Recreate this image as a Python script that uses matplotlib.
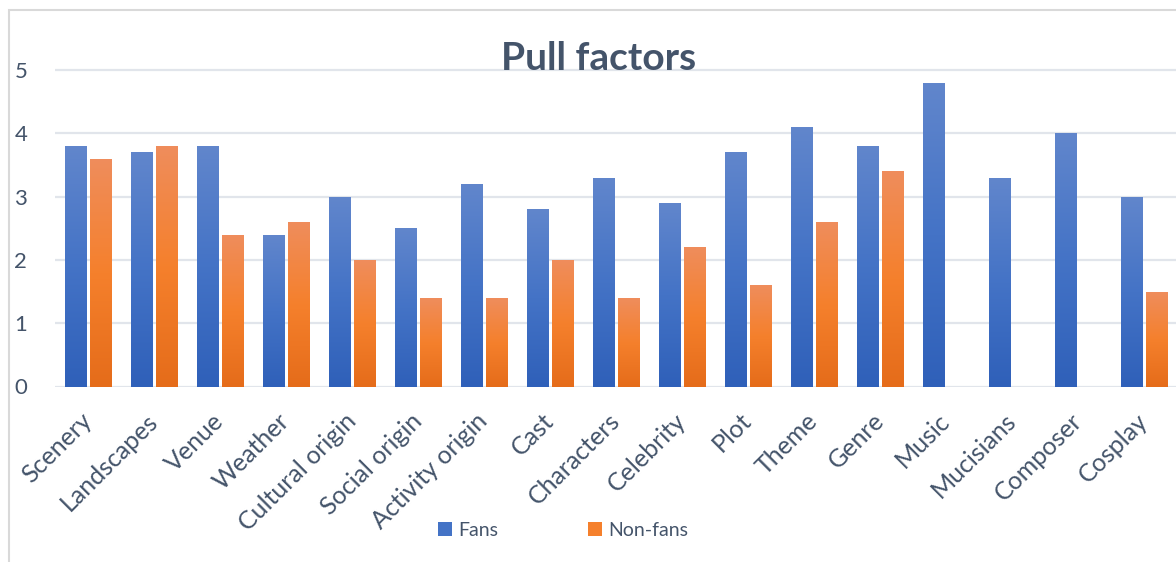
import matplotlib.pyplot as plt
import numpy as np
from matplotlib.colors import LinearSegmentedColormap
from matplotlib.patches import Patch, Rectangle

plt.rcParams['font.family'] = ['Lato', 'DejaVu Sans']

categories = ['Scenery', 'Landscapes', 'Venue', 'Weather', 'Cultural origin',
              'Social origin', 'Activity origin', 'Cast', 'Characters', 'Celebrity',
              'Plot', 'Theme', 'Genre', 'Music', 'Mucisians', 'Composer', 'Cosplay']
fans = [3.8, 3.7, 3.8, 2.4, 3.0, 2.5, 3.2, 2.8, 3.3, 2.9, 3.7, 4.1, 3.8, 4.8, 3.3, 4.0, 3.0]
non_fans = [3.6, 3.8, 2.4, 2.6, 2.0, 1.4, 1.4, 2.0, 1.4, 2.2, 1.6, 2.6, 3.4, 0, 0, 0, 1.5]
y_ticks = [0, 1, 2, 3, 4, 5]

text_col = '#44546A'
grid_col = '#E1E5EB'

# gradient colour stops (bottom -> top)
blue_map = LinearSegmentedColormap.from_list('b', ['#2F60B9', '#4473C6', '#6186CC'])
orange_map = LinearSegmentedColormap.from_list('o', ['#E56C1A', '#F5802C', '#EF8D5C'])

W, H = 1176, 562
fig = plt.figure(figsize=(W / 100, H / 100), dpi=100)

px_unit = (386.5 - 70) / 5
ytop = 5.05
ax = fig.add_axes([55 / W, 1 - 386.5 / H, 1122 / W, ytop * px_unit / H])

x = np.arange(len(categories))
bw = 0.32
off = 0.19


def gradient_bars(xs, vals, cmap, label):
    bars = ax.bar(xs, vals, bw, color=cmap(0.5), label=label, zorder=2)
    grad = np.linspace(0, 1, 256).reshape(-1, 1)
    for b in bars:
        h = b.get_height()
        if h <= 0:
            continue
        x0 = b.get_x()
        im = ax.imshow(grad, cmap=cmap, origin='lower', aspect='auto',
                       extent=[x0, x0 + b.get_width(), 0, h], zorder=3)
        im.set_clip_path(b)
    return bars


gradient_bars(x - off, fans, blue_map, 'Fans')
gradient_bars(x + off, non_fans, orange_map, 'Non-fans')

ax.set_xlim(-0.5, len(categories) - 0.5)
ax.set_ylim(0, ytop)
ax.set_yticks(y_ticks)
ax.yaxis.grid(True, color=grid_col, linewidth=1.6, zorder=0)
ax.set_axisbelow(True)
for s in ax.spines.values():
    s.set_visible(False)
ax.tick_params(axis='both', length=0, labelcolor=text_col)
ax.tick_params(axis='y', pad=20, labelsize=16)
ax.set_xticks(x)
ax.set_xticklabels(categories, rotation=45, ha='right', va='center',
                   rotation_mode='anchor', fontsize=18)
ax.tick_params(axis='x', pad=22)

fig.text(599 / W, 1 - 58 / H, 'Pull factors', ha='center', va='center',
         fontsize=28, fontweight='bold', color=text_col)

handles = [Patch(facecolor=blue_map(0.5), label='Fans'),
           Patch(facecolor=orange_map(0.5), label='Non-fans')]
fig.legend(handles=handles, loc='center', bbox_to_anchor=(563 / W, 1 - 530 / H),
           ncol=2, frameon=False, fontsize=14, labelcolor=text_col,
           handlelength=0.75, handleheight=0.75, handletextpad=0.3, columnspacing=4.6)

# outer chart border
fig.patches.append(Rectangle((9 / W, -0.1), 1.2, 1.1 - 10 / H, transform=fig.transFigure,
                             fill=False, edgecolor='#D9D9D9', linewidth=1.5))

fig.savefig('out.png', dpi=100)
